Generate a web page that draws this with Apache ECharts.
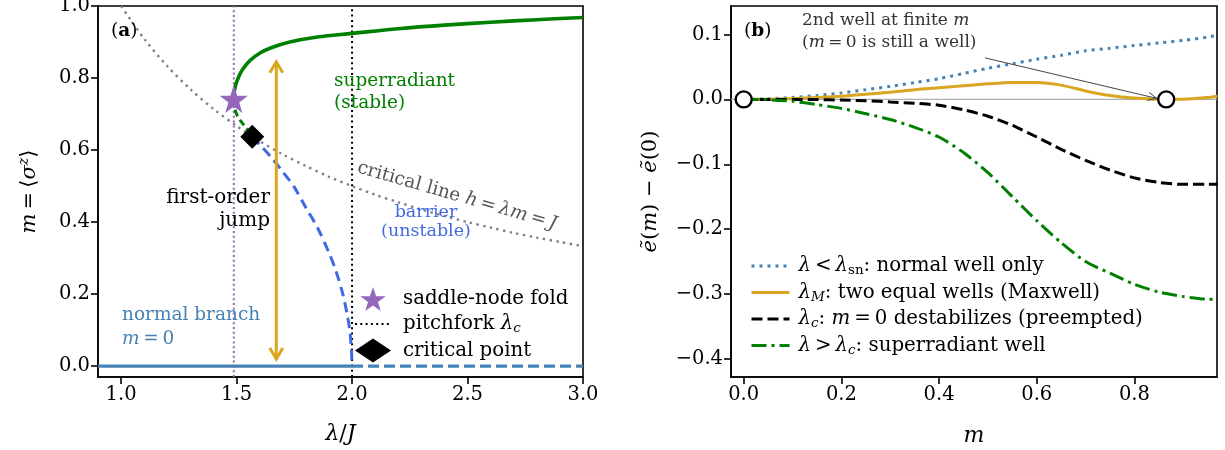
<!DOCTYPE html>
<html><head><meta charset="utf-8">
<script src="https://cdn.jsdelivr.net/npm/echarts@6/dist/echarts.min.js"></script>
<style>html,body{margin:0;padding:0;background:#fff}#c{width:1225px;height:450px}</style>
</head><body><div id="c"></div>
<script>
// ---------------- Panel (a) data ----------------
const aXTicks = [1.0, 1.5, 2.0, 2.5, 3.0];
const aYTicks = [0.0, 0.2, 0.4, 0.6, 0.8, 1.0];
const normalSolidLam = [0.9, 2.0];
const normalSolidM = [0, 0];
const normalDashedLam = [2.0, 3.0];
const normalDashedM = [0, 0];
const stableLam = [1.488, 1.490, 1.495, 1.505, 1.52, 1.54, 1.56, 1.6, 1.65, 1.73, 1.85, 2.0, 2.2, 2.4, 2.6, 2.8, 3.0];
const stableM   = [0.742, 0.762, 0.778, 0.797, 0.818, 0.836, 0.850, 0.869, 0.884, 0.900, 0.914, 0.924, 0.937, 0.947, 0.955, 0.962, 0.968];
const unstableLam = [1.488, 1.490, 1.50, 1.52, 1.545, 1.568];
const unstableM   = [0.742, 0.720, 0.700, 0.679, 0.658, 0.637];
const barrierLam = [1.568, 1.6, 1.65, 1.7, 1.75, 1.8, 1.85, 1.9, 1.93, 1.96, 1.98, 1.99, 1.997, 2.0];
const barrierM   = [0.637, 0.615, 0.58, 0.54, 0.497, 0.44, 0.385, 0.315, 0.265, 0.2, 0.14, 0.1, 0.05, 0.0];
const critLam = [1.0, 1.1, 1.2, 1.3, 1.4, 1.5, 1.6, 1.7, 1.8, 1.9, 2.0, 2.1, 2.2, 2.3, 2.4, 2.5, 2.6, 2.7, 2.8, 2.9, 3.0];
const critM   = [1.0, 0.909, 0.833, 0.769, 0.714, 0.667, 0.625, 0.588, 0.556, 0.526, 0.5, 0.476, 0.455, 0.435, 0.417, 0.4, 0.385, 0.370, 0.357, 0.345, 0.333];
const lamSn = 1.488;
const lamC = 2.0;
const foldPoint = [1.488, 0.742];
const critPoint = [1.568, 0.637];
const jumpLam = 1.672, jumpLow = 0.02, jumpHigh = 0.845;

// ---------------- Panel (b) data ----------------
const bXTicks = [0.0, 0.2, 0.4, 0.6, 0.8];
const bYTicks = [-0.4, -0.3, -0.2, -0.1, 0.0, 0.1];
const mGrid     = [0, 0.05, 0.1, 0.15, 0.2, 0.25, 0.3, 0.35, 0.4, 0.45, 0.5, 0.55, 0.6, 0.65, 0.7, 0.75, 0.8, 0.85, 0.9, 0.95, 0.97];
const eBelowSn  = [0, 0.0008, 0.003, 0.006, 0.010, 0.015, 0.020, 0.026, 0.032, 0.040, 0.048, 0.055, 0.062, 0.068, 0.075, 0.079, 0.083, 0.087, 0.091, 0.096, 0.099];
const eMaxwell  = [0, 0.0003, 0.0013, 0.003, 0.005, 0.008, 0.011, 0.015, 0.018, 0.021, 0.024, 0.026, 0.026, 0.022, 0.013, 0.006, 0.002, 0.0002, 0.0003, 0.003, 0.005];
const eCritical = [0, 0, 0, -0.0003, -0.001, -0.002, -0.004, -0.006, -0.009, -0.016, -0.026, -0.040, -0.058, -0.077, -0.094, -0.109, -0.121, -0.128, -0.131, -0.131, -0.131];
const eAbove    = [0, -0.0005, -0.003, -0.008, -0.014, -0.022, -0.031, -0.043, -0.058, -0.082, -0.113, -0.150, -0.187, -0.221, -0.250, -0.268, -0.285, -0.297, -0.304, -0.308, -0.308];
const wellM = [0, 0.865];
const wellE = [0, 0];
const noteFrom = [0.494, 0.064];
const noteTo = [0.846, 0.0015];

// ---------------- helpers ----------------
const FONT = 'DejaVu Serif';
const FS = 18.5;     // annotation text
const LFS = 19.8;    // legend / tick text
const TS = '\u2009';  // thin space (mathtext-like spacing)
const zip = (xs, ys) => xs.map((x, i) => [x, ys[i]]);
const fmt = v => (v < 0 ? '\u2212' : '') + Math.abs(v).toFixed(1);
const aXRange = [0.9, 3.0], aYRange = [-0.03, 1.0];
const bXRange = [-0.026, 0.969], bYRange = [-0.428, 0.144];
const STAR = 'path://M50,0 L61.8,35.1 L98.1,35.1 L68.8,56.7 L79.4,91 L50,70 L20.6,91 L31.2,56.7 L1.9,35.1 L38.2,35.1 Z';
function richFor(size) {
  return {
    i: { fontFamily: FONT, fontStyle: 'italic', fontSize: size },
    sub: { fontFamily: FONT, fontSize: size * 0.68, padding: [10, 0, 0, 0] },
    subi: { fontFamily: FONT, fontStyle: 'italic', fontSize: size * 0.68, padding: [10, 0, 0, 0] },
    sup: { fontFamily: FONT, fontStyle: 'italic', fontSize: size * 0.68, padding: [0, 0, 11, 0] }
  };
}

function axisCommon(vals, gridIndex, range) {
  return {
    gridIndex, type: 'value', min: range[0], max: range[1],
    axisLine: { show: true, onZero: false, lineStyle: { color: '#000', width: 1.6 } },
    axisTick: { show: true, length: 7, inside: false, customValues: vals, lineStyle: { color: '#000', width: 1.6 } },
    axisLabel: { customValues: vals, formatter: fmt, fontFamily: FONT, fontSize: 19.5, color: '#000', margin: 8 },
    splitLine: { show: false }
  };
}

const chart = echarts.init(document.getElementById('c'), null, { renderer: 'canvas' });

function renderJump(params, api) {
  const p0 = api.coord([api.value(0), api.value(1)]);
  const p1 = api.coord([api.value(0), api.value(2)]);
  const hl = 11, hw = 6.5;
  const st = { stroke: '#daa520', lineWidth: 3, fill: null, lineJoin: 'miter' };
  return { type: 'group', children: [
    { type: 'line', shape: { x1: p0[0], y1: p0[1] - 1, x2: p1[0], y2: p1[1] + 1 }, style: st },
    { type: 'polyline', shape: { points: [[p0[0] - hw, p0[1] - hl], [p0[0], p0[1]], [p0[0] + hw, p0[1] - hl]] }, style: st },
    { type: 'polyline', shape: { points: [[p1[0] - hw, p1[1] + hl], [p1[0], p1[1]], [p1[0] + hw, p1[1] + hl]] }, style: st }
  ]};
}
function renderNote(params, api) {
  const a = api.coord([api.value(0), api.value(1)]);
  const b = api.coord([api.value(2), api.value(3)]);
  const dx = a[0] - b[0], dy = a[1] - b[1];
  const L = Math.hypot(dx, dy), ux = dx / L, uy = dy / L;
  const hl = 9, hw = 4;
  const st = { stroke: '#444', lineWidth: 1, fill: null };
  return { type: 'group', children: [
    { type: 'line', shape: { x1: a[0], y1: a[1], x2: b[0], y2: b[1] }, style: st },
    { type: 'polyline', shape: { points: [
      [b[0] + ux * hl - uy * hw, b[1] + uy * hl + ux * hw], [b[0], b[1]],
      [b[0] + ux * hl + uy * hw, b[1] + uy * hl - ux * hw]] }, style: st }
  ]};
}

const hiddenSym = { opacity: 0 };
const option = {
  animation: false,
  backgroundColor: '#fff',
  textStyle: { fontFamily: FONT },
  grid: [
    { left: 98, top: 6, width: 485, height: 371, show: true, borderColor: '#000', borderWidth: 1.6, outerBoundsMode: 'none', containLabel: false },
    { left: 731, top: 6, width: 486, height: 371, show: true, borderColor: '#000', borderWidth: 1.6, outerBoundsMode: 'none', containLabel: false }
  ],
  xAxis: [
    Object.assign(axisCommon(aXTicks, 0, aXRange), {
      name: '{i|λ}/{i|J}', nameLocation: 'middle', nameGap: 46,
      nameTextStyle: { fontFamily: FONT, fontSize: 22, color: '#000', rich: richFor(22) } }),
    Object.assign(axisCommon(bXTicks, 1, bXRange), {
      name: '{i|m}', nameLocation: 'middle', nameGap: 48,
      nameTextStyle: { fontFamily: FONT, fontSize: 22, color: '#000', rich: richFor(22) } })
  ],
  yAxis: [
    Object.assign(axisCommon(aYTicks, 0, aYRange), {
      name: '{i|m}' + TS + '=' + TS + '⟨{i|σ}{sup|z}⟩', nameLocation: 'middle', nameGap: 56, nameRotate: 90,
      nameTextStyle: { fontFamily: FONT, fontSize: 21, color: '#000', rich: richFor(21) } }),
    Object.assign(axisCommon(bYTicks, 1, bYRange), {
      name: '{i|ẽ}({i|m}) − {i|ẽ}(0)', nameLocation: 'middle', nameGap: 70, nameRotate: 90,
      nameTextStyle: { fontFamily: FONT, fontSize: 21, color: '#000', rich: richFor(21) } })
  ],
  legend: [
    {
      data: ['saddle-node fold', { name: 'pitchfork', itemStyle: hiddenSym }, 'critical point'],
      orient: 'vertical', left: 349, top: 282, itemWidth: 36, itemHeight: 24, itemGap: 3,
      selectedMode: false, lineStyle: { width: 2 },
      textStyle: { fontFamily: FONT, fontSize: LFS, color: '#000', padding: [0, 0, 0, 7], rich: richFor(LFS) },
      formatter: n => n === 'pitchfork' ? 'pitchfork {i|λ}{subi|c}' : n
    },
    {
      data: ['belowSn', 'maxwell', 'critical', 'above'],
      orient: 'vertical', left: 745, top: 251, itemWidth: 38, itemHeight: 14, itemGap: 5,
      selectedMode: false, lineStyle: { width: 3 }, itemStyle: hiddenSym,
      textStyle: { fontFamily: FONT, fontSize: LFS, color: '#000', padding: [0, 0, 0, 4], rich: richFor(LFS) },
      formatter: n => ({
        belowSn: '{i|λ}' + TS + '<' + TS + '{i|λ}{sub|sn}: normal well only',
        maxwell: '{i|λ}{subi|M}: two equal wells (Maxwell)',
        critical: '{i|λ}{subi|c}: {i|m}' + TS + '=' + TS + '0 destabilizes (preempted)',
        above: '{i|λ}' + TS + '>' + TS + '{i|λ}{subi|c}: superradiant well'
      })[n]
    }
  ],
  series: [
    // ---- panel a ----
    { name: 'critLine', type: 'line', xAxisIndex: 0, yAxisIndex: 0, symbol: 'none', smooth: 0.3, z: 2,
      data: zip(critLam, critM), lineStyle: { color: '#808080', width: 2.4, type: [2.4, 4.4] } },
    { name: 'snLine', type: 'line', xAxisIndex: 0, yAxisIndex: 0, symbol: 'none', z: 2,
      data: zip([lamSn, lamSn], aYRange), lineStyle: { color: '#9467bd', width: 2, type: [2, 2.8] } },
    { name: 'pitchfork', type: 'line', xAxisIndex: 0, yAxisIndex: 0, symbol: 'none', z: 2,
      data: zip([lamC, lamC], aYRange), lineStyle: { color: '#000', width: 2, type: [2, 3.3] }, itemStyle: { color: '#000' } },
    { name: 'normalSolid', type: 'line', xAxisIndex: 0, yAxisIndex: 0, symbol: 'none', z: 3,
      data: zip(normalSolidLam, normalSolidM), lineStyle: { color: '#4682b4', width: 3.2 } },
    { name: 'normalDashed', type: 'line', xAxisIndex: 0, yAxisIndex: 0, symbol: 'none', z: 3,
      data: zip(normalDashedLam, normalDashedM), lineStyle: { color: '#4682b4', width: 3.2, type: [11, 5] } },
    { name: 'barrier', type: 'line', xAxisIndex: 0, yAxisIndex: 0, symbol: 'none', smooth: 0.3, z: 3,
      data: zip(barrierLam, barrierM), lineStyle: { color: '#4169e1', width: 3, type: [10, 6], cap: 'butt' } },
    { name: 'unstableGreen', type: 'line', xAxisIndex: 0, yAxisIndex: 0, symbol: 'none', smooth: 0.3, z: 3,
      data: zip(unstableLam, unstableM), lineStyle: { color: '#008000', width: 3, type: [7, 4] } },
    { name: 'stable', type: 'line', xAxisIndex: 0, yAxisIndex: 0, symbol: 'none', smooth: 0.35, z: 3,
      data: zip(stableLam, stableM), lineStyle: { color: '#008000', width: 3.6 } },
    { name: 'jump', type: 'custom', xAxisIndex: 0, yAxisIndex: 0, z: 4,
      data: [[jumpLam, jumpLow, jumpHigh]], renderItem: renderJump },
    { name: 'saddle-node fold', type: 'scatter', xAxisIndex: 0, yAxisIndex: 0, z: 6,
      data: [foldPoint], symbol: STAR, symbolSize: 28, itemStyle: { color: '#9467bd', opacity: 1 } },
    { name: 'critical point', type: 'scatter', xAxisIndex: 0, yAxisIndex: 0, z: 6,
      data: [critPoint], symbol: 'diamond', symbolSize: 24, itemStyle: { color: '#000', opacity: 1 } },
    // ---- panel b ----
    { name: 'zeroLine', type: 'line', xAxisIndex: 1, yAxisIndex: 1, symbol: 'none', z: 1,
      data: zip(bXRange, [0, 0]), lineStyle: { color: '#b0b0b0', width: 1.2 } },
    { name: 'belowSn', type: 'line', xAxisIndex: 1, yAxisIndex: 1, symbol: 'none', smooth: 0.25, z: 3,
      data: zip(mGrid, eBelowSn), lineStyle: { color: '#4682b4', width: 3, type: [3, 5] }, itemStyle: { color: '#4682b4' } },
    { name: 'maxwell', type: 'line', xAxisIndex: 1, yAxisIndex: 1, symbol: 'none', smooth: 0.25, z: 3,
      data: zip(mGrid, eMaxwell), lineStyle: { color: '#daa520', width: 3 }, itemStyle: { color: '#daa520' } },
    { name: 'critical', type: 'line', xAxisIndex: 1, yAxisIndex: 1, symbol: 'none', smooth: 0.25, z: 3,
      data: zip(mGrid, eCritical), lineStyle: { color: '#000', width: 3, type: [11, 5] }, itemStyle: { color: '#000' } },
    { name: 'above', type: 'line', xAxisIndex: 1, yAxisIndex: 1, symbol: 'none', smooth: 0.25, z: 3,
      data: zip(mGrid, eAbove), lineStyle: { color: '#008000', width: 3, type: [15, 5, 3, 5] }, itemStyle: { color: '#008000' } },
    { name: 'note', type: 'custom', xAxisIndex: 1, yAxisIndex: 1, z: 4,
      data: [[noteFrom[0], noteFrom[1], noteTo[0], noteTo[1]]], renderItem: renderNote },
    { name: 'wells', type: 'scatter', xAxisIndex: 1, yAxisIndex: 1, z: 6,
      data: zip(wellM, wellE), symbol: 'circle', symbolSize: 16,
      itemStyle: { color: '#fff', borderColor: '#000', borderWidth: 2.4, opacity: 1 } }
  ]
};
chart.setOption(option);

function txt(x, y, text, opts) {
  const o = Object.assign({ align: 'left', v: 'middle', color: '#000', size: FS, weight: 'normal', style: 'normal', rot: 0 }, opts || {});
  return { type: 'text', x, y, rotation: o.rot, z: 20,
    style: { text, fill: o.color, fontFamily: FONT, fontSize: o.size, fontWeight: o.weight, fontStyle: o.style,
      align: o.align, verticalAlign: o.v, textAlign: o.align, textVerticalAlign: o.v,
      rich: {
        i: { fontFamily: FONT, fontStyle: 'italic', fontSize: o.size, fill: o.color, color: o.color },
        b: { fontFamily: FONT, fontWeight: 'bold', fontSize: o.size, fill: o.color, color: o.color },
        r: { fontFamily: FONT, fontSize: o.size, fill: o.color, color: o.color }
      } } };
}
chart.setOption({ graphic: [
  txt(111, 31, '({b|a})'),
  txt(334, 81, 'superradiant', { color: '#008000' }),
  txt(334, 103, '(stable)', { color: '#008000' }),
  txt(270, 198, 'first-order', { align: 'right', size: 20 }),
  txt(270, 221, 'jump', { align: 'right', size: 20 }),
  txt(426, 212, 'barrier', { align: 'center', color: '#4169e1', size: 17.5 }),
  txt(426, 231, '(unstable)', { align: 'center', color: '#4169e1', size: 17.5 }),
  txt(457, 196, '{r|critical line }{i|h}' + TS + '=' + TS + '{i|λm}' + TS + '=' + TS + '{i|J}', { align: 'center', color: '#555', rot: -0.28 }),
  txt(122, 315, 'normal branch', { color: '#4682b4' }),
  txt(122, 339, '{i|m}' + TS + '=' + TS + '0', { color: '#4682b4' }),
  txt(744, 31, '({b|b})'),
  txt(802, 21, '2nd well at finite {i|m}', { color: '#333', size: 17 }),
  txt(802, 43, '({i|m}' + TS + '=' + TS + '0 is still a well)', { color: '#333', size: 17 })
]});
</script>
</body></html>
